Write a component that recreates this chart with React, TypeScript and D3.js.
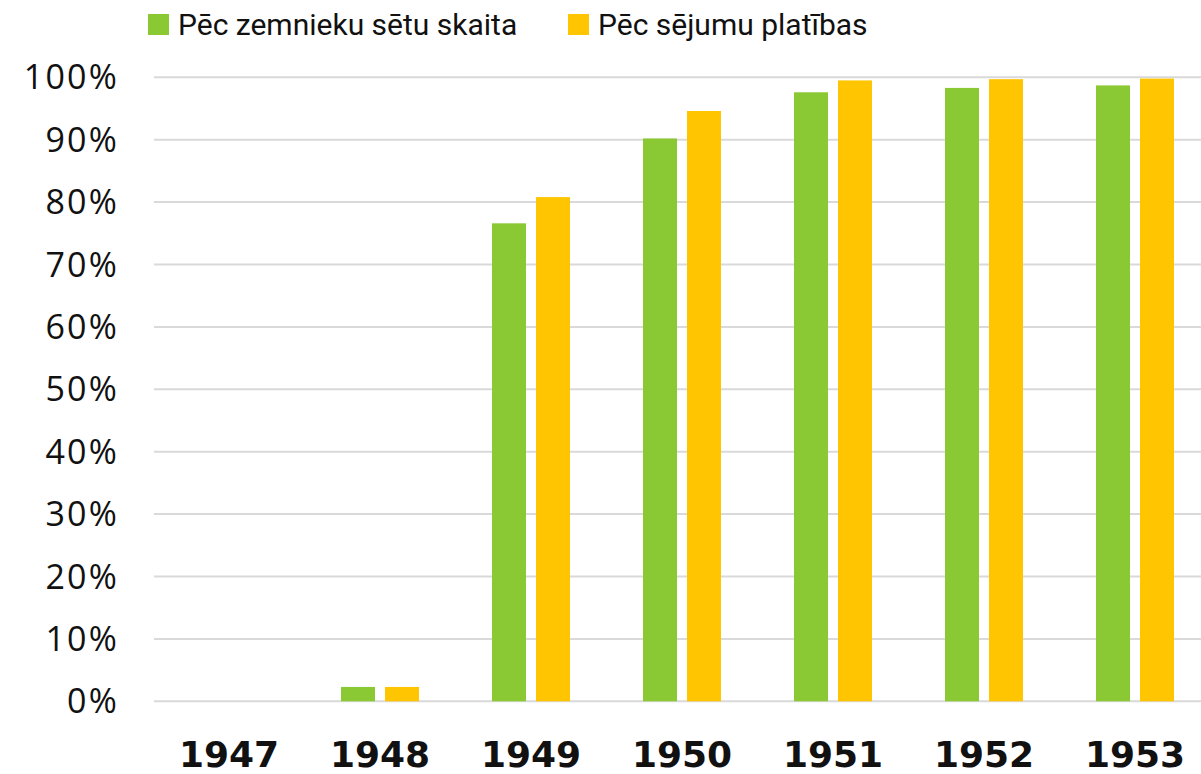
import React from "react";
import * as d3 from "d3";

const years = ["1947", "1948", "1949", "1950", "1951", "1952", "1953"];
const seriesNames = ["Pēc zemnieku sētu skaita", "Pēc sējumu platības"];
const farmsShare = [0, 2.3, 76.6, 90.2, 97.6, 98.3, 98.7];
const areaShare = [0, 2.3, 80.8, 94.6, 99.5, 99.7, 99.8];
const yTicks = [0, 10, 20, 30, 40, 50, 60, 70, 80, 90, 100];
const colors = ["#8BC934", "#FFC500"];

export default function App() {
  const W = 1201, H = 774;
  const x = d3.scaleBand<string>().domain(years).range([153.5, 1210.5]).paddingInner(0).paddingOuter(0);
  const y = d3.scaleLinear().domain([0, 100]).range([701.3, 77.3]);
  const barW = 34, gap = 10;
  const series = [farmsShare, areaShare];
  return (
    <svg width={W} height={H} style={{ position: "absolute", left: 0, top: 0, background: "#fff" }}>
      {yTicks.map((t) => (
        <g key={t}>
          <line x1={154} x2={W} y1={y(t)} y2={y(t)} stroke="#d9d9d9" strokeWidth={2} />
          <text x={119} y={y(t) + 12} textAnchor="end" fontFamily="'Open Sans', sans-serif" fontSize={34} letterSpacing={2.2} fill="#111">
            {t}%
          </text>
        </g>
      ))}
      {series.map((vals, si) =>
        vals.map((v, i) => {
          const cx = (x(years[i]) as number) + x.bandwidth() / 2;
          const bx = si === 0 ? cx - gap / 2 - barW : cx + gap / 2;
          return v > 0 ? (
            <rect key={`${si}-${i}`} x={bx} y={y(v)} width={barW} height={y(0) - y(v)} fill={colors[si]} />
          ) : null;
        })
      )}
      {years.map((yr) => (
        <text key={yr} x={(x(yr) as number) + x.bandwidth() / 2} y={767} textAnchor="middle" fontFamily="'DejaVu Sans', sans-serif" fontWeight="bold" fontSize={36} fill="#111">
          {yr}
        </text>
      ))}
      {seriesNames.map((n, i) => {
        const lx = i === 0 ? 148 : 568;
        return (
          <g key={n}>
            <rect x={lx} y={14} width={21} height={21} fill={colors[i]} />
            <text x={lx + 30} y={35} fontFamily="'Liberation Sans Narrow', 'Roboto', sans-serif" fontSize={30} fill="#111">
              {n}
            </text>
          </g>
        );
      })}
    </svg>
  );
}
